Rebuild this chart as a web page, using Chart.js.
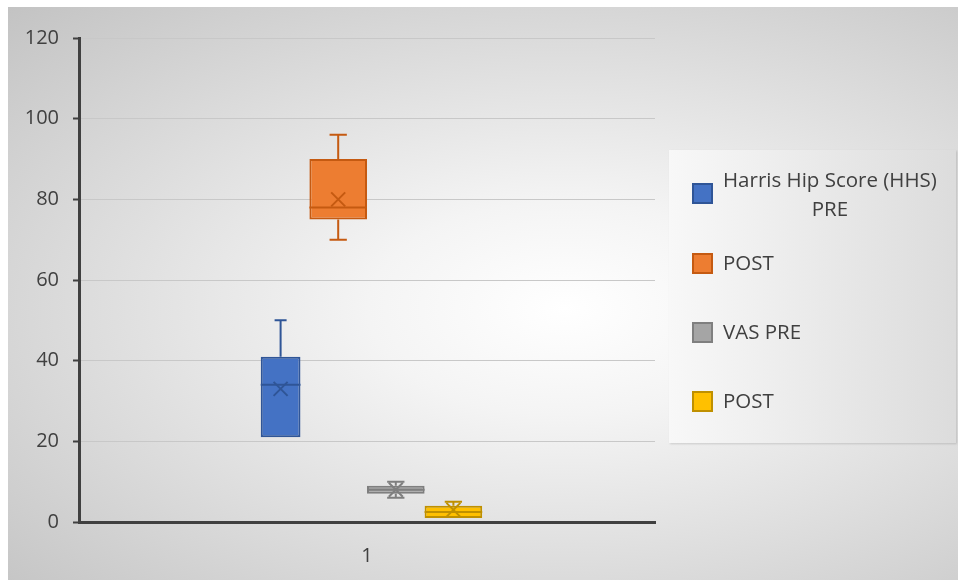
<!DOCTYPE html>
<html lang="en">
<head>
  <meta charset="UTF-8">
  <title>Box plot - HHS and VAS</title>
  <style>
    body {
      margin: 0;
      padding: 0;
      background: #fff;
      font-family: "Open Sans", Arial, sans-serif;
    }
    .wrap {
      position: relative;
      width: 958px;
      height: 580px;
      overflow: hidden;
    }
    .frame {
      position: absolute;
      left: 8px;
      top: 7px;
      width: 960px;
      height: 580px;
      background: radial-gradient(ellipse farthest-corner at 58% 52%, #ffffff 0%, #f4f4f4 25%, #c3c3c3 100%);
    }
    canvas {
      position: absolute;
      left: 0;
      top: 0;
    }
    .legend {
      position: absolute;
      left: 669px;
      top: 150px;
      width: 287px;
      height: 293px;
      background: linear-gradient(to right, #f8f8f8, #dcdcdc);
      box-shadow: 1px 1px 2px rgba(0, 0, 0, 0.15);
      color: #404040;
      font-size: 20.5px;
    }
    .item {
      position: absolute;
      left: 23px;
    }
    .sw {
      position: absolute;
      width: 17px;
      height: 17px;
      border: 2px solid;
    }
    .txt {
      position: absolute;
      left: 31px;
      white-space: nowrap;
      line-height: 29px;
    }
  </style>
  <script src="https://cdn.jsdelivr.net/npm/chart.js"></script>
</head>
<body>
  <div class="wrap">
    <div class="frame"></div>
    <canvas id="boxChart" width="958" height="580"></canvas>
    <div class="legend" id="legend"></div>
  </div>

  <script>
    // data
    const categories = ['1'];
    const seriesNames = ['Harris Hip Score (HHS) PRE', 'POST', 'VAS PRE', 'POST'];
    const minVals = [21, 70, 6, 1];
    const q1Vals = [21, 75, 7, 1];
    const medianVals = [34, 78, 8, 2.5];
    const q3Vals = [41, 90, 9, 4];
    const maxVals = [50, 96, 10, 5];
    const meanVals = [33, 80, 8, 3];
    const yTicks = [0, 20, 40, 60, 80, 100, 120];

    const fills = ['#4472c4', '#ed7d31', '#a5a5a5', '#ffc000'];
    const edges = ['#2f5597', '#c55a11', '#7f7f7f', '#bf9000'];

    const datasets = seriesNames.map(function(name, i) {
      return {
        label: name,
        data: [[q1Vals[i], q3Vals[i]]],
        backgroundColor: fills[i],
        borderColor: edges[i],
        borderWidth: 2,
        borderSkipped: false,
        barPercentage: i === 0 ? 0.69 : 1.0,
        categoryPercentage: 0.4
      };
    });

    // whiskers, median and mean drawn on top of the floating bars
    const boxParts = {
      id: 'boxParts',
      afterDatasetsDraw(chart) {
        const ctx = chart.ctx;
        const y = chart.scales.y;
        chart.data.datasets.forEach(function(ds, i) {
          const bar = chart.getDatasetMeta(i).data[0];
          const x = bar.x;
          const w = bar.width;
          const cap = Math.max(w * 0.3, 12) / 2;
          ctx.save();
          ctx.strokeStyle = edges[i];
          ctx.lineWidth = 2;
          ctx.beginPath();
          // upper whisker
          ctx.moveTo(x, y.getPixelForValue(q3Vals[i]));
          ctx.lineTo(x, y.getPixelForValue(maxVals[i]));
          ctx.moveTo(x - cap, y.getPixelForValue(maxVals[i]));
          ctx.lineTo(x + cap, y.getPixelForValue(maxVals[i]));
          // lower whisker
          if (minVals[i] < q1Vals[i]) {
            ctx.moveTo(x, y.getPixelForValue(q1Vals[i]));
            ctx.lineTo(x, y.getPixelForValue(minVals[i]));
            ctx.moveTo(x - cap, y.getPixelForValue(minVals[i]));
            ctx.lineTo(x + cap, y.getPixelForValue(minVals[i]));
          }
          // median
          const my = y.getPixelForValue(medianVals[i]);
          ctx.moveTo(x - w / 2, my);
          ctx.lineTo(x + w / 2, my);
          ctx.stroke();
          // mean marker
          const ay = y.getPixelForValue(meanVals[i]);
          const s = 7;
          ctx.beginPath();
          ctx.moveTo(x - s, ay - s);
          ctx.lineTo(x + s, ay + s);
          ctx.moveTo(x + s, ay - s);
          ctx.lineTo(x - s, ay + s);
          ctx.stroke();
          ctx.restore();
        });
      }
    };

    const ctx = document.getElementById('boxChart').getContext('2d');
    new Chart(ctx, {
      type: 'bar',
      data: {
        labels: categories,
        datasets: datasets
      },
      options: {
        responsive: false,
        animation: false,
        layout: {
          padding: { left: 0, right: 303, top: 38, bottom: 0 }
        },
        plugins: {
          legend: { display: false },
          tooltip: { enabled: false }
        },
        scales: {
          x: {
            grid: { display: false },
            border: { display: true, color: '#404040', width: 3 },
            ticks: {
              color: '#404040',
              font: { family: 'Open Sans', size: 20 },
              padding: 14
            },
            afterFit(scale) { scale.height = 58; }
          },
          y: {
            min: 0,
            max: 120,
            afterBuildTicks(scale) {
              scale.ticks = yTicks.map(function(v) { return { value: v }; });
            },
            grid: {
              color: '#c8c8c8',
              lineWidth: 1,
              tickColor: '#404040',
              tickWidth: 2,
              tickLength: 6
            },
            border: { display: true, color: '#404040', width: 3 },
            ticks: {
              color: '#404040',
              font: { family: 'Open Sans', size: 20 },
              padding: 14
            },
            afterFit(scale) { scale.width = 79; }
          }
        }
      },
      plugins: [boxParts]
    });

    // legend built from the series names
    const legend = document.getElementById('legend');
    const itemTops = [33, 103, 172, 241];
    seriesNames.forEach(function(name, i) {
      const item = document.createElement('div');
      item.className = 'item';
      item.style.top = itemTops[i] + 'px';
      const sw = document.createElement('div');
      sw.className = 'sw';
      sw.style.background = fills[i];
      sw.style.borderColor = edges[i];
      sw.style.top = '0px';
      const txt = document.createElement('div');
      txt.className = 'txt';
      if (i === 0) {
        txt.innerHTML = 'Harris Hip Score (HHS)<br>PRE';
        txt.style.textAlign = 'center';
        txt.style.top = '-18px';
      } else {
        txt.textContent = name;
        txt.style.top = '-5px';
      }
      item.appendChild(sw);
      item.appendChild(txt);
      legend.appendChild(item);
    });
  </script>
</body>
</html>
